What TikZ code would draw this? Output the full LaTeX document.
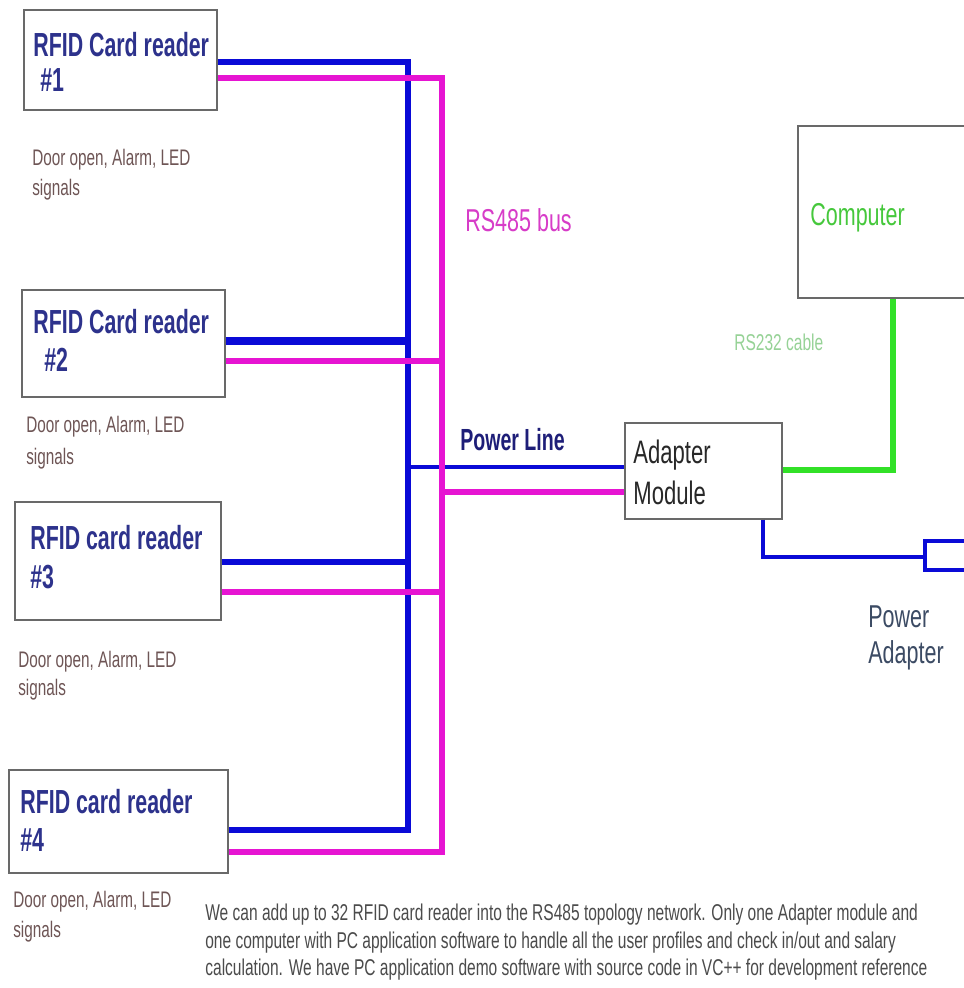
\documentclass[tikz,border=0pt]{standalone}
\usepackage{fontspec}
\setmainfont[FakeStretch=0.68]{Liberation Sans}
\newfontfamily\boldcond[FakeStretch=0.64]{Liberation Sans Bold}
\definecolor{boxgray}{RGB}{105,105,105}
\definecolor{ttl}{RGB}{45,50,140}
\definecolor{doorc}{RGB}{110,85,85}
\definecolor{busblue}{RGB}{10,10,215}
\definecolor{busmag}{RGB}{230,20,210}
\definecolor{cabgreen}{RGB}{50,225,40}
\definecolor{rsmag}{RGB}{215,60,200}
\definecolor{compgreen}{RGB}{70,200,60}
\definecolor{rsgreen}{RGB}{150,210,150}
\definecolor{plblue}{RGB}{30,30,120}
\definecolor{adtext}{RGB}{40,40,40}
\definecolor{patext}{RGB}{60,75,100}
\definecolor{bodytext}{RGB}{75,75,75}
\begin{document}
\begin{tikzpicture}[x=0.02cm,y=-0.02cm,
  box/.style={draw=boxgray, line width=0.8pt, fill=white, inner sep=0pt, rectangle},
  title/.style={anchor=west, inner sep=0pt, text=ttl, font=\boldcond\fontsize{19}{22}\selectfont},
  door/.style={anchor=west, inner sep=0pt, text=doorc, font=\fontsize{12.8}{15}\selectfont},
  body/.style={anchor=west, inner sep=0pt, text=bodytext, font=\fontsize{13}{15}\selectfont},
  bl/.style={draw=busblue, line width=3.4pt},
  blthick/.style={draw=busblue, line width=4.4pt},
  blthin/.style={draw=busblue, line width=2.4pt},
  mg/.style={draw=busmag, line width=2.9pt},
  gr/.style={draw=cabgreen, line width=2.9pt}]
\clip (0,0) rectangle (964,988);
\fill[white] (0,0) rectangle (964,988);

% boxes
\node[box, minimum width=3.86cm, minimum height=2.0cm] (b1) at (120.5,60) {};
\node[box, minimum width=4.06cm, minimum height=2.14cm] (b2) at (123.5,343.5) {};
\node[box, minimum width=4.12cm, minimum height=2.36cm] (b3) at (118,561) {};
\node[box, minimum width=4.38cm, minimum height=2.06cm] (b4) at (118.5,821.5) {};
\node[box, minimum width=3.14cm, minimum height=1.92cm] (ad) at (703.5,471) {};
\node[box, minimum width=3.54cm, minimum height=3.44cm] (cp) at (886.5,212) {};
\node[rectangle, draw=busblue, line width=2.8pt, fill=white, minimum width=1.2cm, minimum height=0.58cm, inner sep=0pt] (pa) at (955,555.5) {};

% bus coordinates
\coordinate (bt) at (408,62);
\coordinate (bb) at (408,830);
\coordinate (mt) at (442,78);
\coordinate (mb) at (442,852);
\coordinate (gc) at (893,470);
\coordinate (pc) at (763,557);

% blue lines
\draw[bl] (b1.east |- bt) -- (bt) -- (bb) -- (b4.east |- bb);
\draw[blthick] (b2.east |- 0,341) -- (bt |- 0,341);
\draw[bl] (b3.east |- 0,562) -- (bt |- 0,562);
\draw[blthin] (bt |- 0,467) -- (ad.west |- 0,467);
\draw[blthin] (ad.south -| pc) -- (pc) -- (pa.west |- pc);

% magenta lines
\draw[mg] (b1.east |- mt) -- (mt) -- (mb) -- (b4.east |- mb);
\draw[mg] (b2.east |- 0,361) -- (mt |- 0,361);
\draw[mg] (b3.east |- 0,592) -- (mt |- 0,592);
\draw[mg] (mt |- 0,492) -- (ad.west |- 0,492);

% green cable
\draw[gr] (cp.south -| gc) -- (gc) -- (ad.east |- gc);

% box texts
\node[title] (t1a) at (33,45) {RFID Card reader};
\node[title] (t1b) at (40,80) {\#1};
\node[title] (t2a) at (33,322) {RFID Card reader};
\node[title] (t2b) at (44,360) {\#2};
\node[title] (t3a) at (30,538) {RFID card reader};
\node[title] (t3b) at (30,577) {\#3};
\node[title] (t4a) at (20,802) {RFID card reader};
\node[title] (t4b) at (20,840) {\#4};

% door texts
\node[door] (d1a) at (32,160) {Door open, Alarm, LED};
\node[door] (d1b) at (32,190) {signals};
\node[door] (d2a) at (26,427) {Door open, Alarm, LED};
\node[door] (d2b) at (26,459) {signals};
\node[door] (d3a) at (18,662) {Door open, Alarm, LED};
\node[door] (d3b) at (18,690) {signals};
\node[door] (d4a) at (13,902) {Door open, Alarm, LED};
\node[door] (d4b) at (13,932) {signals};

% labels
\node[anchor=west, inner sep=0pt, text=rsmag, font=\fontsize{18}{20}\selectfont] (rs485) at (465,220) {RS485 bus};
\node[anchor=west, inner sep=0pt, text=compgreen, font=\fontsize{18}{20}\selectfont] (comptxt) at (810,218) {Computer};
\node[anchor=west, inner sep=0pt, text=rsgreen, font=\fontsize{13}{15}\selectfont] (rs232) at (734,342) {RS232 cable};
\node[anchor=west, inner sep=0pt, text=plblue, font=\boldcond\fontsize{17.4}{20}\selectfont] (pl) at (460,440) {Power Line};
\node[anchor=west, inner sep=0pt, text=adtext, font=\fontsize{18.5}{20}\selectfont] (ada) at (633,455) {Adapter};
\node[anchor=west, inner sep=0pt, text=adtext, font=\fontsize{18.5}{20}\selectfont] (adb) at (633,493) {Module};
\node[anchor=west, inner sep=0pt, text=patext, font=\fontsize{18}{20}\selectfont] (paa) at (868,617) {Power};
\node[anchor=west, inner sep=0pt, text=patext, font=\fontsize{18}{20}\selectfont] (pab) at (868,655) {Adapter};

% bottom text
\node[body] (n1) at (205,915) {We can add up to 32 RFID card reader into the RS485 topology network. Only one Adapter module and};
\node[body] (n2) at (205,943) {one computer with PC application software to handle all the user profiles and check in/out and salary};
\node[body] (n3) at (205,970) {calculation. We have PC application demo software with source code in VC++ for development reference};
\end{tikzpicture}
\end{document}
